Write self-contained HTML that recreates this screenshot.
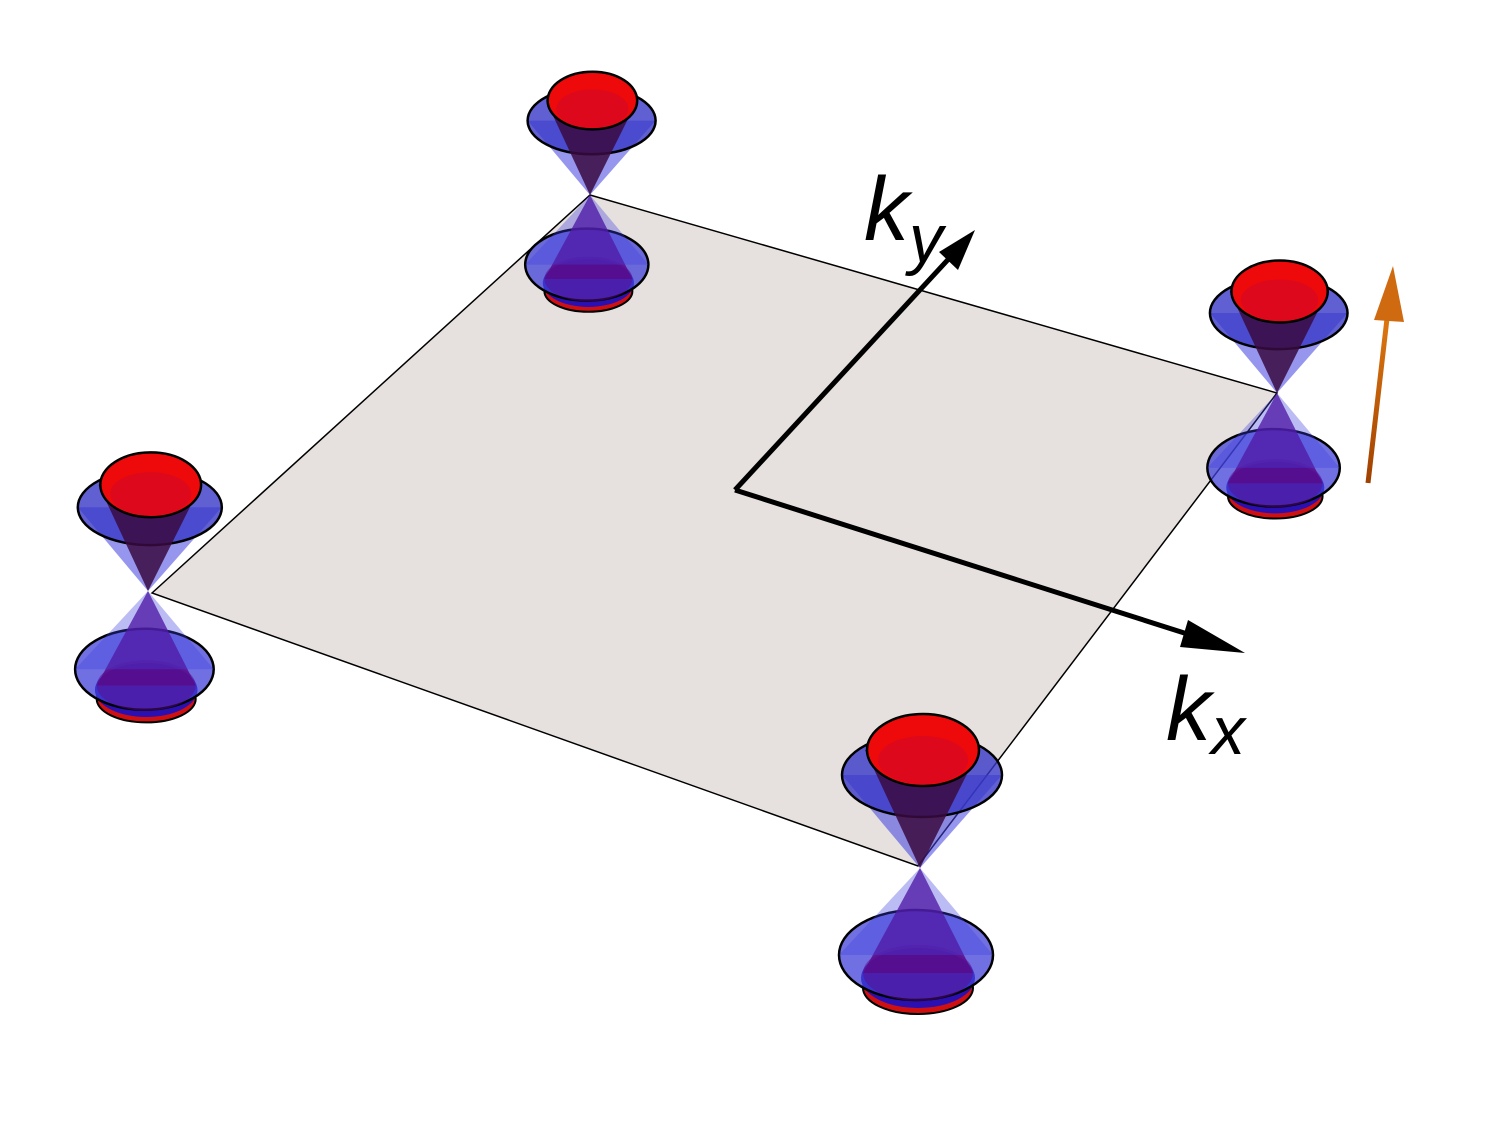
<!DOCTYPE html>
<html><head><meta charset="utf-8">
<style>html,body{margin:0;padding:0;background:#fff}svg{display:block}</style></head>
<body>
<svg id="fig" width="1500" height="1121" viewBox="0 0 1500 1121" xmlns="http://www.w3.org/2000/svg">
<defs>
<linearGradient id="org" x1="0" y1="1" x2="0" y2="0"><stop offset="0" stop-color="#a04000"/><stop offset="1" stop-color="#e07a10"/></linearGradient>
</defs>
<polygon points="152,593 590,195 1277,393 918,866" fill="#e6e1de" stroke="#000" stroke-width="1.5"/>
<g>
<polyline points="735,490 955,252" fill="none" stroke="#000" stroke-width="5"/>
<polygon points="975,230 939,252 958,270" fill="#000"/>
</g>
<g>
<polyline points="735,490 1200,638" fill="none" stroke="#000" stroke-width="5"/>
<polygon points="1245,653 1188,620 1180,647" fill="#000"/>
</g>
<text x="864" y="240" font-family="Liberation Sans, sans-serif" font-style="italic" font-size="90">k<tspan font-size="68" dy="22">y</tspan></text>
<text x="1166" y="740" font-family="Liberation Sans, sans-serif" font-style="italic" font-size="90">k<tspan font-size="68" dy="14">x</tspan></text>
<g>
<line x1="1368" y1="483" x2="1388" y2="310" stroke="url(#org)" stroke-width="5"/>
<polygon points="1393,266 1374,320 1404,322" fill="#d06a10"/>
</g>
<g id="cones"></g>
<script>
// cone vertices (corner points of the zone)
const vx = [590, 148, 1277, 920];
const vy = [195, 591, 393, 868];
// scale of each cone
const sc = [0.8, 0.9, 0.86, 1.0];
const names = ['cone-top', 'cone-left', 'cone-right', 'cone-bottom'];
const NS = 'http://www.w3.org/2000/svg';
const g = document.getElementById('cones');
function el(t, a, p) { const e = document.createElementNS(NS, t); for (const k in a) e.setAttribute(k, a[k]); p.appendChild(e); return e; }
for (let i = 0; i < vx.length; i++) {
  const x = vx[i], y = vy[i], s = sc[i];
  const c = el('g', {}, g);
  
  
  // lower cone
  const by = y + 87 * s, brx = 77 * s, bry = 45 * s;
  el('ellipse', {cx: x - 2 * s, cy: y + 120 * s, rx: 55 * s, ry: 26 * s, fill: '#d01010', stroke: '#000', 'stroke-width': 2}, c);
  el('ellipse', {cx: x - 2 * s, cy: y + 110 * s, rx: 57 * s, ry: 30 * s, fill: '#2a10b0'}, c);
  el('ellipse', {cx: x - 4 * s, cy: by, rx: brx, ry: bry, fill: '#4040d8', 'fill-opacity': 0.75, stroke: '#000', 'stroke-width': 2.5}, c);
  el('polygon', {points: `${x},${y} ${x - 57 * s},${y + 105 * s} ${x + 53 * s},${y + 105 * s}`, fill: '#5a0a8a', 'fill-opacity': 0.8}, c);
  el('ellipse', {cx: x - 2 * s, cy: y + 105 * s, rx: 55 * s, ry: 28 * s, fill: '#5a0a8a', 'fill-opacity': 0.5}, c);
  el('polygon', {points: `${x},${y} ${x - brx - 4 * s},${by} ${x + brx - 4 * s},${by}`, fill: '#4040e0', 'fill-opacity': 0.35}, c);
  // upper cone
  const ty = y - 93 * s, trx = 80 * s, try_ = 42 * s;
  el('polygon', {points: `${x},${y} ${x - trx + 2 * s},${ty} ${x + trx + 2 * s},${ty}`, fill: '#4040e0', 'fill-opacity': 0.55}, c);
  el('ellipse', {cx: x + 2 * s, cy: ty, rx: trx, ry: try_, fill: '#3838c8', 'fill-opacity': 0.8, stroke: '#000', 'stroke-width': 2.5}, c);
  el('polygon', {points: `${x},${y} ${x - 55 * s},${y - 118 * s} ${x + 59 * s},${y - 118 * s}`, fill: '#3a0a40', 'fill-opacity': 0.85}, c);
  el('ellipse', {cx: x + 3 * s, cy: y - 118 * s, rx: 56 * s, ry: 36 * s, fill: '#ee0a0a', stroke: '#000', 'stroke-width': 2.5}, c);
  el('ellipse', {cx: x + 3 * s, cy: y - 108 * s, rx: 45 * s, ry: 24 * s, fill: '#d80820', 'fill-opacity': 0.8}, c);
}
</script>
</svg>
</body></html>
